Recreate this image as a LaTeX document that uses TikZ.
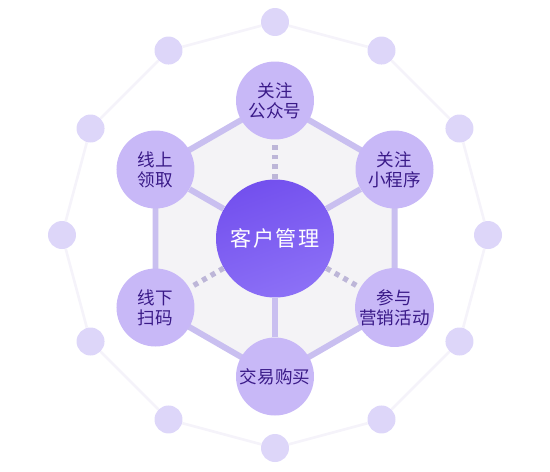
\documentclass[tikz,border=0pt]{standalone}
\usepackage{fontspec}
\setmainfont{Noto Sans CJK SC}
\newfontfamily\hubfont[LetterSpace=8]{Noto Sans CJK SC}
\usetikzlibrary{positioning,backgrounds}
\definecolor{dotfill}{HTML}{DDD6F9}
\definecolor{ringline}{HTML}{F5F3FA}
\definecolor{hexfill}{HTML}{F4F3F6}
\definecolor{hexline}{HTML}{C9BFF0}
\definecolor{dashline}{HTML}{BDB6D8}
\definecolor{stepfill}{HTML}{C8B8F7}
\definecolor{steptext}{HTML}{3A1A88}
\definecolor{hubtop}{HTML}{7350EE}
\definecolor{hubbottom}{HTML}{8C70F6}

\begin{document}
\begin{tikzpicture}[x=0.02cm,y=0.02cm,
    every node/.style={circle,inner sep=0pt,align=center},
    ringdot/.style={fill=dotfill,minimum size=0.56cm},
    stepnode/.style={fill=stepfill,minimum size=1.56cm,text=steptext,
      font=\fontsize{10}{11.5}\selectfont},
    hubnode/.style={top color=hubtop,bottom color=hubbottom,shading angle=20,
      minimum size=2.36cm,text=white,font=\hubfont\fontsize{12}{14}\selectfont},
    solidspoke/.style={draw=hexline,line width=3.4pt},
    dotspoke/.style={draw=dashline,line width=3pt,dash pattern=on 2.8pt off 2.8pt}]
    \useasboundingbox (-275,-232.5) rectangle (275,238.5);
    % outer ring
    \foreach \i in {0,...,11}
      \node[ringdot] (o\i) at ([shift={(0,3.5)}]\i*30:213) {};
    % centre and steps
    \node[hubnode] (hub) at (0,0) {客户管理};
    \node[stepnode] (gzh) at (90:138) {关注\\公众号};
    \node[stepnode] (xcx) at (30:138) {关注\\小程序};
    \node[stepnode] (yxhd) at (-30:138) {参与\\营销活动};
    \node[stepnode] (jygm) at (-90:138) {交易购买};
    \node[stepnode] (xxsm) at (210:138) {线下\\扫码};
    \node[stepnode] (xslq) at (150:138) {线上\\领取};
    \begin{scope}[on background layer]
      \foreach \i [remember=\i as \j (initially 11)] in {0,...,11}
        \draw[ringline,line width=1.5pt] (o\j) -- (o\i);
      \fill[hexfill] (gzh.center) -- (xcx.center) -- (yxhd.center)
        -- (jygm.center) -- (xxsm.center) -- (xslq.center) -- cycle;
      \draw[hexline,line width=3.4pt,line join=round] (gzh.center) -- (xcx.center)
        -- (yxhd.center) -- (jygm.center) -- (xxsm.center) -- (xslq.center) -- cycle;
    \end{scope}
    \draw[solidspoke] (hub) -- (xslq);
    \draw[solidspoke] (hub) -- (xcx);
    \draw[solidspoke] (hub) -- (jygm);
    \draw[dotspoke] (hub) -- (gzh);
    \draw[dotspoke] (hub) -- (xxsm);
    \draw[dotspoke] (hub) -- (yxhd);
  \end{tikzpicture}
\end{document}
